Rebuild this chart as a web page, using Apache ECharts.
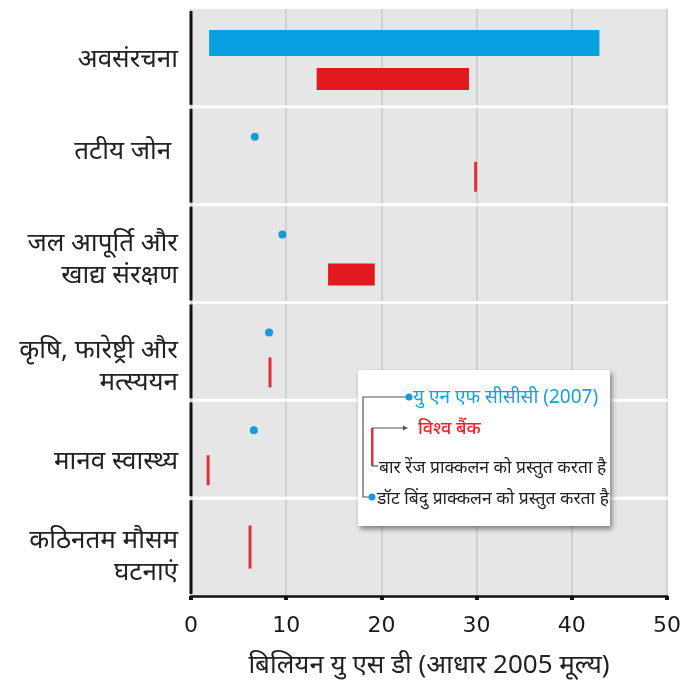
<!DOCTYPE html>
<html>
<head>
<meta charset="utf-8">
<script src="https://cdn.jsdelivr.net/npm/echarts@6/dist/echarts.min.js"></script>
<style>
  html, body { margin: 0; padding: 0; background: #fff; }
  #chart { width: 691px; height: 684px; }
</style>
</head>
<body>
<div id="chart"></div>
<script>
const categories = [
  "अवसंरचना",
  "तटीय जोन ",
  "जल आपूर्ति और\nखाद्य संरक्षण",
  "कृषि, फारेष्ट्री और\nमत्स्ययन",
  "मानव स्वास्थ्य",
  "कठिनतम मौसम\nघटनाएं"
];
// UNFCCC (2007) estimates: low / high (equal = point estimate)
const unfcccLow = [1.9, 6.7, 9.6, 8.2, 6.6, null];
const unfcccHigh = [42.9, 6.7, 9.6, 8.2, 6.6, null];
// World Bank estimates: low / high
const worldBankLow = [13.2, 29.9, 14.4, 8.3, 1.8, 6.2];
const worldBankHigh = [29.2, 29.9, 19.3, 8.3, 1.8, 6.2];

// vertical nudge of each category label (px, + is down)
const labelNudge = [2, -4, 6, 15, 12, 10];

const FONT = "'Noto Sans', 'Open Sans', sans-serif";
const BLUE = "#0a9fe0";
const RED = "#e3191f";

const chart = echarts.init(document.getElementById("chart"));

// left axis broken per category + white row separators + category label
function frameItem(params, api) {
  const i = api.value(1);
  const c = api.coord([0, i]);
  const h = api.size([0, 1])[1];
  const cs = params.coordSys;
  const top = c[1] - h / 2, bottom = c[1] + h / 2;
  const children = [{
    type: "line",
    shape: { x1: cs.x, y1: top + 2, x2: cs.x, y2: bottom - 2 },
    style: { stroke: "#111", lineWidth: 3 }
  }, {
    type: "text",
    x: cs.x - 13,
    y: c[1] + labelNudge[i],
    style: {
      text: categories[i],
      fill: "#222",
      font: "26px " + FONT,
      lineHeight: 32,
      align: "right",
      verticalAlign: "middle"
    }
  }];
  if (i < categories.length - 1) {
    children.push({
      type: "line",
      shape: { x1: cs.x + 2, y1: bottom, x2: cs.x + cs.width + 3, y2: bottom },
      style: { stroke: "#fff", lineWidth: 3 }
    });
  }
  return { type: "group", children: children };
}

function unfcccItem(params, api) {
  const lo = api.value(1), hi = api.value(2);
  if (isNaN(lo)) return;
  const i = api.value(0);
  const a = api.coord([lo, i]);
  const b = api.coord([hi, i]);
  if (hi - lo < 0.3) {
    return { type: "circle", shape: { cx: a[0], cy: a[1] - 19, r: 4 }, style: { fill: "#159bd8" } };
  }
  return { type: "rect", shape: { x: a[0], y: a[1] - 28, width: b[0] - a[0], height: 26 }, style: { fill: BLUE } };
}

function worldBankItem(params, api) {
  const lo = api.value(1), hi = api.value(2);
  const hasBlue = !isNaN(api.value(3));
  const i = api.value(0);
  const a = api.coord([lo, i]);
  const b = api.coord([hi, i]);
  const cy = a[1] + (hasBlue ? 21 : 0);
  if (hi - lo < 0.3) {
    const h = hasBlue ? 30 : 43;
    return { type: "rect", shape: { x: a[0] - 1.5, y: cy - h / 2, width: 3, height: h }, style: { fill: "#e0303a" } };
  }
  return { type: "rect", shape: { x: a[0], y: cy - 11, width: b[0] - a[0], height: 22 }, style: { fill: RED } };
}

const legendX = 358, legendY = 370;
const legendParts = [
  { type: "rect", shape: { x: 0, y: 0, width: 252, height: 156 },
    style: { fill: "#fff", shadowBlur: 5, shadowOffsetX: 2, shadowOffsetY: 3, shadowColor: "rgba(0,0,0,0.45)" } },
  { type: "polyline", shape: { points: [[48, 27], [5, 27], [5, 127], [12, 127]] },
    style: { stroke: "#555", lineWidth: 1.2, fill: null } },
  { type: "circle", shape: { cx: 51, cy: 27, r: 3.5 }, style: { fill: "#159bd8" } },
  { type: "circle", shape: { cx: 14, cy: 127, r: 3.5 }, style: { fill: "#159bd8" } },
  { type: "rect", shape: { x: 13, y: 58, width: 2.5, height: 38 }, style: { fill: "#e0303a" } },
  { type: "polyline", shape: { points: [[14, 58], [47, 58]] }, style: { stroke: "#555", lineWidth: 1.2 } },
  { type: "polygon", shape: { points: [[45, 55.5], [50, 58], [45, 60.5]] }, style: { fill: "#555" } },
  { type: "polyline", shape: { points: [[14, 96], [20, 96]] }, style: { stroke: "#555", lineWidth: 1.2 } },
  { type: "text", x: 55, y: 28, style: { text: "यु एन एफ सीसीसी (2007)", fill: "#1a9fd6", font: "19px " + FONT, verticalAlign: "middle" } },
  { type: "text", x: 60, y: 59, style: { text: "विश्व बैंक", fill: "#e3262d", font: "500 18px " + FONT, verticalAlign: "middle" } },
  { type: "text", x: 21, y: 98, style: { text: "बार रेंज प्राक्कलन को प्रस्तुत करता है", fill: "#222", font: "17.5px " + FONT, verticalAlign: "middle" } },
  { type: "text", x: 19, y: 129, style: { text: "डॉट बिंदु प्राक्कलन को प्रस्तुत करता है", fill: "#222", font: "17.5px " + FONT, verticalAlign: "middle" } }
];
const legend = {
  type: "group",
  left: legendX, top: legendY,
  children: legendParts.map((p, k) => Object.assign({ z: 100 + k }, p))
};

const option = {
  backgroundColor: "#fff",
  animation: false,
  textStyle: { fontFamily: FONT },
  grid: { left: 191, right: 24, top: 9, bottom: 87, show: true, backgroundColor: "#e6e6e6", borderWidth: 0 },
  xAxis: {
    type: "value",
    min: 0, max: 50, interval: 10,
    name: "बिलियन यु एस डी (आधार 2005 मूल्य)",
    nameLocation: "middle",
    nameGap: 57,
    nameTextStyle: { fontSize: 26, color: "#222", fontFamily: FONT },
    axisLine: { show: true, lineStyle: { color: "#111", width: 2.5 } },
    axisTick: { show: true, length: 4, lineStyle: { color: "#111", width: 4 } },
    axisLabel: { fontSize: 22, color: "#1a1a1a", margin: 19, fontFamily: "'DejaVu Sans', sans-serif" },
    splitLine: { show: true, lineStyle: { color: "#c9c9c9", width: 1.5 } }
  },
  yAxis: {
    type: "category",
    inverse: true,
    data: categories,
    axisLine: { show: false },
    axisTick: { show: false },
    splitLine: { show: false },
    axisLabel: { show: false }
  },
  graphic: [legend],
  series: [
    {
      type: "custom",
      z: 1,
      silent: true,
      renderItem: frameItem,
      encode: { x: 0, y: 1 },
      data: categories.map((c, i) => [0, i]),
      clip: false
    },
    {
      name: "यु एन एफ सीसीसी (2007)",
      type: "custom",
      z: 3,
      renderItem: unfcccItem,
      encode: { x: [1, 2], y: 0 },
      data: categories.map((c, i) => [i, unfcccLow[i], unfcccHigh[i]])
    },
    {
      name: "विश्व बैंक",
      type: "custom",
      z: 3,
      renderItem: worldBankItem,
      encode: { x: [1, 2], y: 0 },
      data: categories.map((c, i) => [i, worldBankLow[i], worldBankHigh[i], unfcccLow[i]])
    }
  ]
};

chart.setOption(option);
</script>
</body>
</html>
